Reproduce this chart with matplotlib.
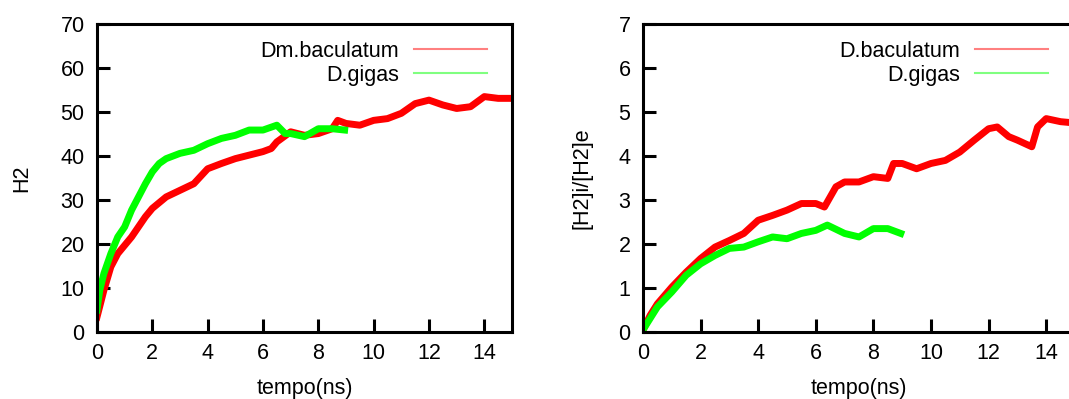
import matplotlib
matplotlib.use("Agg")
import matplotlib.pyplot as plt
from matplotlib.lines import Line2D

plt.rcParams['font.family'] = ['Liberation Sans', 'DejaVu Sans']

# H2 (painel esquerdo)
t_bac_h2 = [0, 0.25, 0.5, 0.75, 1, 1.25, 1.5, 1.75, 2, 2.5, 3, 3.5, 4, 4.5, 5, 5.5,
            6, 6.3, 6.5, 7, 7.5, 8, 8.5, 8.7, 9, 9.5, 10, 10.5, 11, 11.5, 12, 12.5,
            13, 13.5, 14, 14.5, 15]
h2_bac = [3.4, 9.5, 14.8, 17.8, 19.7, 21.6, 23.9, 26.2, 28.1, 30.7, 32.2, 33.7, 37.1,
          38.3, 39.4, 40.2, 41.0, 41.7, 43.2, 45.5, 44.7, 45.1, 46.2, 48.1, 47.4, 47.0,
          48.1, 48.5, 49.7, 51.9, 52.7, 51.6, 50.8, 51.2, 53.5, 53.1, 53.1]
t_gig_h2 = [0, 0.1, 0.25, 0.5, 0.75, 1, 1.25, 1.5, 1.75, 2, 2.25, 2.5, 3, 3.5, 4, 4.5,
            5, 5.5, 6, 6.5, 6.8, 7, 7.5, 8, 8.5, 8.95]
h2_gig = [5.0, 9.5, 13.3, 17.8, 21.6, 23.9, 27.7, 30.7, 33.7, 36.4, 38.3, 39.4, 40.6,
          41.3, 42.8, 44.0, 44.7, 45.9, 45.9, 47.0, 45.1, 45.1, 44.4, 46.2, 46.2, 45.9]

# [H2]i/[H2]e (painel direito)
t_bac_r = [0, 0.25, 0.5, 1, 1.5, 2, 2.5, 3, 3.5, 4, 4.5, 5, 5.5, 6, 6.3, 6.7, 7, 7.5,
           8, 8.5, 8.7, 9, 9.5, 10, 10.5, 11, 11.5, 12, 12.3, 12.7, 13, 13.5, 13.7,
           14, 14.5, 15]
r_bac = [0.04, 0.38, 0.64, 1.02, 1.36, 1.67, 1.93, 2.08, 2.24, 2.54, 2.65, 2.77, 2.92,
         2.92, 2.84, 3.30, 3.41, 3.41, 3.53, 3.49, 3.83, 3.83, 3.71, 3.83, 3.90, 4.09,
         4.36, 4.62, 4.66, 4.44, 4.36, 4.21, 4.66, 4.85, 4.78, 4.75]
t_gig_r = [0, 0.5, 1, 1.5, 2, 2.5, 3, 3.5, 4, 4.5, 5, 5.5, 6, 6.4, 7, 7.5, 8, 8.5, 8.95]
r_gig = [0.05, 0.57, 0.91, 1.29, 1.55, 1.74, 1.90, 1.93, 2.05, 2.16, 2.12, 2.24, 2.31,
         2.43, 2.24, 2.16, 2.35, 2.35, 2.24]

RED = '#ff0000'
GREEN = '#00ff00'
FS = 15.5
LW = 5.0

fig = plt.figure(figsize=(10.69, 3.99), dpi=100)
ax1 = fig.add_axes([97 / 1069, 67 / 399, 415 / 1069, 308 / 399])
ax2 = fig.add_axes([643 / 1069, 67 / 399, 432 / 1069, 308 / 399])


def estilo(ax, ymax, ylabel, nomes, ylab_x, leg_dx):
    ax.set_xlim(0, 15)
    ax.set_ylim(0, ymax)
    ax.set_xticks(range(0, 15, 2))
    ax.set_yticks(range(0, ymax + 1, 10 if ymax > 10 else 1))
    ax.tick_params(direction='in', length=9.5, width=2.2, labelsize=FS,
                   top=False, right=False, color='black')
    ax.tick_params(axis='y', pad=9)
    ax.tick_params(axis='x', pad=8)
    for s in ax.spines.values():
        s.set_linewidth(2.2)
    ax.set_xlabel('tempo(ns)', fontsize=FS)
    ax.set_ylabel(ylabel, fontsize=FS)
    ax.xaxis.set_label_coords(0.5, -0.15)
    ax.yaxis.set_label_coords(ylab_x, 0.5)
    handles = [Line2D([], [], color='#ff8080', lw=1.5),
               Line2D([], [], color='#80ff80', lw=1.5)]
    ax.legend(handles, nomes, loc='upper right', frameon=False, fontsize=FS,
              markerfirst=False, handlelength=3.4, handletextpad=0.7,
              labelspacing=0.12, borderpad=0, borderaxespad=0,
              bbox_to_anchor=(leg_dx, 1 - 17 / 308))


ax1.plot(t_bac_h2, h2_bac, color=RED, lw=LW, solid_joinstyle='round')
ax1.plot(t_gig_h2, h2_gig, color=GREEN, lw=LW, solid_joinstyle='round')
estilo(ax1, 70, 'H2', ['Dm.baculatum', 'D.gigas'], -0.155, 1 - 25 / 415)

ax2.plot(t_bac_r, r_bac, color=RED, lw=LW, solid_joinstyle='round')
ax2.plot(t_gig_r, r_gig, color=GREEN, lw=LW, solid_joinstyle='round')
estilo(ax2, 7, '[H2]i/[H2]e', ['D.baculatum', 'D.gigas'], -0.118, 1 - 27 / 432)

fig.savefig('out.png', dpi=100)
